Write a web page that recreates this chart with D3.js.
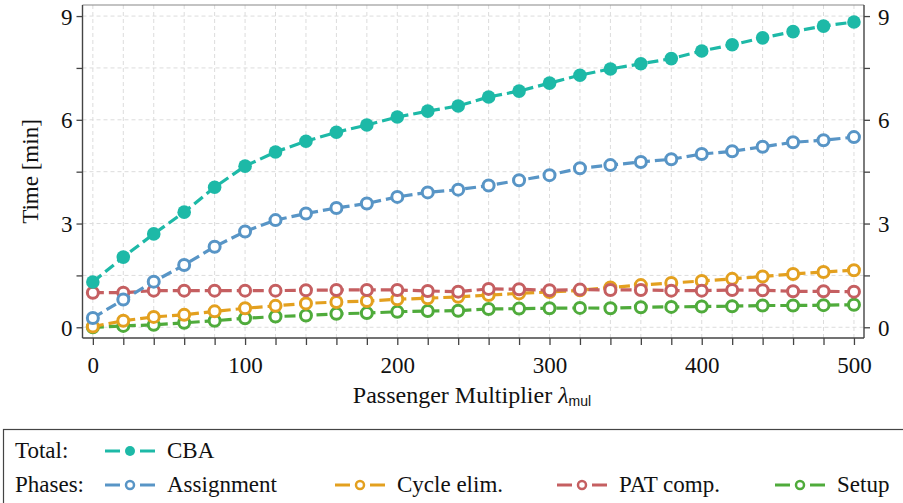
<!DOCTYPE html>
<html>
<head>
<meta charset="utf-8">
<script src="https://cdn.jsdelivr.net/npm/d3@7"></script>
<style>
  body { margin: 0; background: #fff; }
</style>
</head>
<body>
<div id="chart"></div>
<script>
var width = 903, height = 503;
var serif = "'Liberation Serif', serif";
var fs = "23px";

// passenger multiplier values
var multipliers = [0, 20, 40, 60, 80, 100, 120, 140, 160, 180, 200, 220, 240, 260, 280, 300,
                   320, 340, 360, 380, 400, 420, 440, 460, 480, 500];

// times in minutes
var cba        = [1.31, 2.03, 2.70, 3.33, 4.05, 4.66, 5.07, 5.38, 5.64, 5.85, 6.08, 6.25, 6.40,
                  6.66, 6.83, 7.06, 7.29, 7.47, 7.62, 7.77, 7.99, 8.17, 8.37, 8.55, 8.71, 8.83];
var assignment = [0.27, 0.80, 1.32, 1.80, 2.33, 2.77, 3.10, 3.29, 3.45, 3.58, 3.77, 3.90, 3.98,
                  4.10, 4.25, 4.40, 4.60, 4.69, 4.78, 4.86, 5.01, 5.09, 5.22, 5.35, 5.41, 5.50];
var cycleElim  = [0.02, 0.19, 0.30, 0.36, 0.46, 0.55, 0.62, 0.69, 0.73, 0.76, 0.81, 0.84, 0.88,
                  0.93, 0.98, 1.02, 1.07, 1.15, 1.22, 1.28, 1.34, 1.40, 1.47, 1.54, 1.60, 1.65];
var patComp    = [1.00, 1.00, 1.06, 1.06, 1.06, 1.06, 1.06, 1.07, 1.08, 1.08, 1.08, 1.05, 1.03,
                  1.11, 1.10, 1.07, 1.09, 1.08, 1.08, 1.06, 1.06, 1.08, 1.07, 1.04, 1.04, 1.03];
var setup      = [0.00, 0.04, 0.07, 0.13, 0.19, 0.26, 0.31, 0.34, 0.39, 0.41, 0.45, 0.47, 0.48,
                  0.53, 0.54, 0.55, 0.56, 0.55, 0.58, 0.59, 0.60, 0.61, 0.63, 0.63, 0.64, 0.65];

var xTicks = [0, 100, 200, 300, 400, 500];
var yTicks = [0, 3, 6, 9];

// drawn back to front
var series = [
    {"name": "Setup",       "values": setup,      "color": "#4fab3b", "filled": false},
    {"name": "Cycle elim.", "values": cycleElim,  "color": "#e3a01f", "filled": false},
    {"name": "PAT comp.",   "values": patComp,    "color": "#c55f61", "filled": false},
    {"name": "Assignment",  "values": assignment, "color": "#5895c6", "filled": false},
    {"name": "CBA",         "values": cba,        "color": "#1db9a7", "filled": true}
];

var plot = {left: 82.5, right: 864, top: 5, bottom: 338};

var x = d3.scaleLinear()
    .domain([-6.8, 506.6])
    .range([plot.left, plot.right]);

var y = d3.scaleLinear()
    .domain([-0.31, 9.32])
    .range([plot.bottom, plot.top]);

var svg = d3.select("#chart").append("svg")
    .attr("width", width)
    .attr("height", height)
    .style("font-family", serif);

// grid
var grid = svg.append("g");
grid.selectAll("line.vg")
    .data(multipliers)
    .enter().append("line")
    .attr("x1", function(d) { return x(d); })
    .attr("x2", function(d) { return x(d); })
    .attr("y1", plot.top)
    .attr("y2", plot.bottom)
    .attr("stroke", "#dcdcdc")
    .attr("stroke-dasharray", "4,3");

grid.selectAll("line.hg")
    .data(d3.range(0, 9.01, 1.5))
    .enter().append("line")
    .attr("x1", plot.left)
    .attr("x2", plot.right)
    .attr("y1", function(d) { return y(d); })
    .attr("y2", function(d) { return y(d); })
    .attr("stroke", "#dcdcdc")
    .attr("stroke-dasharray", "4,3");

// axes
var minorY = d3.range(0, 9.01, 1.5);

var xAxis = d3.axisBottom(x).tickValues(multipliers).tickSize(7).tickSizeOuter(0)
    .tickFormat(function(d) { return xTicks.indexOf(d) >= 0 ? d : ""; });
var gx = svg.append("g")
    .attr("transform", "translate(0," + plot.bottom + ")")
    .call(xAxis);

var yLeft = d3.axisLeft(y).tickValues(minorY).tickSize(6).tickSizeOuter(0)
    .tickFormat(function(d) { return yTicks.indexOf(d) >= 0 ? d : ""; });
var gyl = svg.append("g")
    .attr("transform", "translate(" + plot.left + ",0)")
    .call(yLeft);

var yRight = d3.axisRight(y).tickValues(minorY).tickSize(6).tickSizeOuter(0)
    .tickFormat(function(d) { return yTicks.indexOf(d) >= 0 ? d : ""; });
var gyr = svg.append("g")
    .attr("transform", "translate(" + plot.right + ",0)")
    .call(yRight);

[gx, gyl, gyr].forEach(function(g) {
    g.attr("font-family", null).attr("font-size", null);
    g.selectAll("path").remove();
    g.selectAll("line").attr("stroke", "#444").attr("stroke-width", 1.3);
    g.selectAll("text")
        .style("font-family", serif)
        .style("font-size", fs)
        .attr("fill", "#111");
});
gx.selectAll("text").attr("dy", null).attr("y", 35);
gyl.selectAll("text").attr("x", -10).attr("dy", "0.35em");
gyr.selectAll("text").attr("x", 14).attr("dy", "0.35em");

// frame
svg.append("line").attr("x1", plot.left).attr("x2", plot.right).attr("y1", plot.top).attr("y2", plot.top)
    .attr("stroke", "#888").attr("stroke-width", 1.2);
svg.append("line").attr("x1", plot.left).attr("x2", plot.right).attr("y1", plot.bottom).attr("y2", plot.bottom)
    .attr("stroke", "#444").attr("stroke-width", 1.4);
svg.append("line").attr("x1", plot.left).attr("x2", plot.left).attr("y1", plot.top).attr("y2", plot.bottom)
    .attr("stroke", "#444").attr("stroke-width", 1.4);
svg.append("line").attr("x1", plot.right).attr("x2", plot.right).attr("y1", plot.top).attr("y2", plot.bottom)
    .attr("stroke", "#444").attr("stroke-width", 1.4);

// series
var line = d3.line()
    .x(function(d) { return x(d[0]); })
    .y(function(d) { return y(d[1]); });

series.forEach(function(s) {
    var pts = multipliers.map(function(m, i) { return [m, s.values[i]]; });
    var g = svg.append("g");
    g.append("path")
        .attr("d", line(pts))
        .attr("fill", "none")
        .attr("stroke", s.color)
        .attr("stroke-width", 3.2)
        .attr("stroke-dasharray", "11,5");
    g.selectAll("circle")
        .data(pts)
        .enter().append("circle")
        .attr("cx", function(d) { return x(d[0]); })
        .attr("cy", function(d) { return y(d[1]); })
        .attr("r", s.filled ? 6.8 : 5.5)
        .attr("fill", s.filled ? s.color : "#fff")
        .attr("stroke", s.filled ? "none" : s.color)
        .attr("stroke-width", 3);
});

// axis labels
svg.append("text")
    .attr("transform", "translate(38," + ((plot.top + plot.bottom) / 2) + ") rotate(-90)")
    .attr("text-anchor", "middle")
    .style("font-family", serif)
    .style("font-size", fs)
    .attr("fill", "#111")
    .text("Time [min]");

var xl = svg.append("text")
    .attr("x", 472)
    .attr("y", 403)
    .attr("text-anchor", "middle")
    .style("font-family", serif)
    .style("font-size", "24px")
    .attr("fill", "#111");
xl.append("tspan").text("Passenger Multiplier ");
xl.append("tspan").style("font-style", "italic").text("λ");
xl.append("tspan")
    .style("font-family", "'Liberation Sans', sans-serif")
    .style("font-size", "14px")
    .attr("dy", 3)
    .text("mul");

// legend
svg.append("rect")
    .attr("x", 3.5).attr("y", 429.5)
    .attr("width", 920).attr("height", 100)
    .attr("fill", "#fff")
    .attr("stroke", "#444")
    .attr("stroke-width", 1.2);

var legendRows = [
    {"label": "Total:", "y": 458, "items": [{"s": series[4], "x": 105}]},
    {"label": "Phases:", "y": 492, "items": [
        {"s": series[3], "x": 105},
        {"s": series[1], "x": 335},
        {"s": series[2], "x": 557},
        {"s": series[0], "x": 775}
    ]}
];

legendRows.forEach(function(row) {
    svg.append("text")
        .attr("x", 15).attr("y", row.y)
        .style("font-family", serif)
        .style("font-size", fs)
        .attr("fill", "#111")
        .text(row.label);
    row.items.forEach(function(it) {
        var cy = row.y - 7;
        var g = svg.append("g");
        g.append("line").attr("x1", it.x).attr("x2", it.x + 15).attr("y1", cy).attr("y2", cy)
            .attr("stroke", it.s.color).attr("stroke-width", 3);
        g.append("line").attr("x1", it.x + 35).attr("x2", it.x + 50).attr("y1", cy).attr("y2", cy)
            .attr("stroke", it.s.color).attr("stroke-width", 3);
        g.append("circle")
            .attr("cx", it.x + 25).attr("cy", cy)
            .attr("r", it.s.filled ? 5 : 4)
            .attr("fill", it.s.filled ? it.s.color : "#fff")
            .attr("stroke", it.s.filled ? "none" : it.s.color)
            .attr("stroke-width", 2.5);
        svg.append("text")
            .attr("x", it.x + 62).attr("y", row.y)
            .style("font-family", serif)
            .style("font-size", fs)
            .attr("fill", "#111")
            .text(it.s.name);
    });
});
</script>
</body>
</html>
